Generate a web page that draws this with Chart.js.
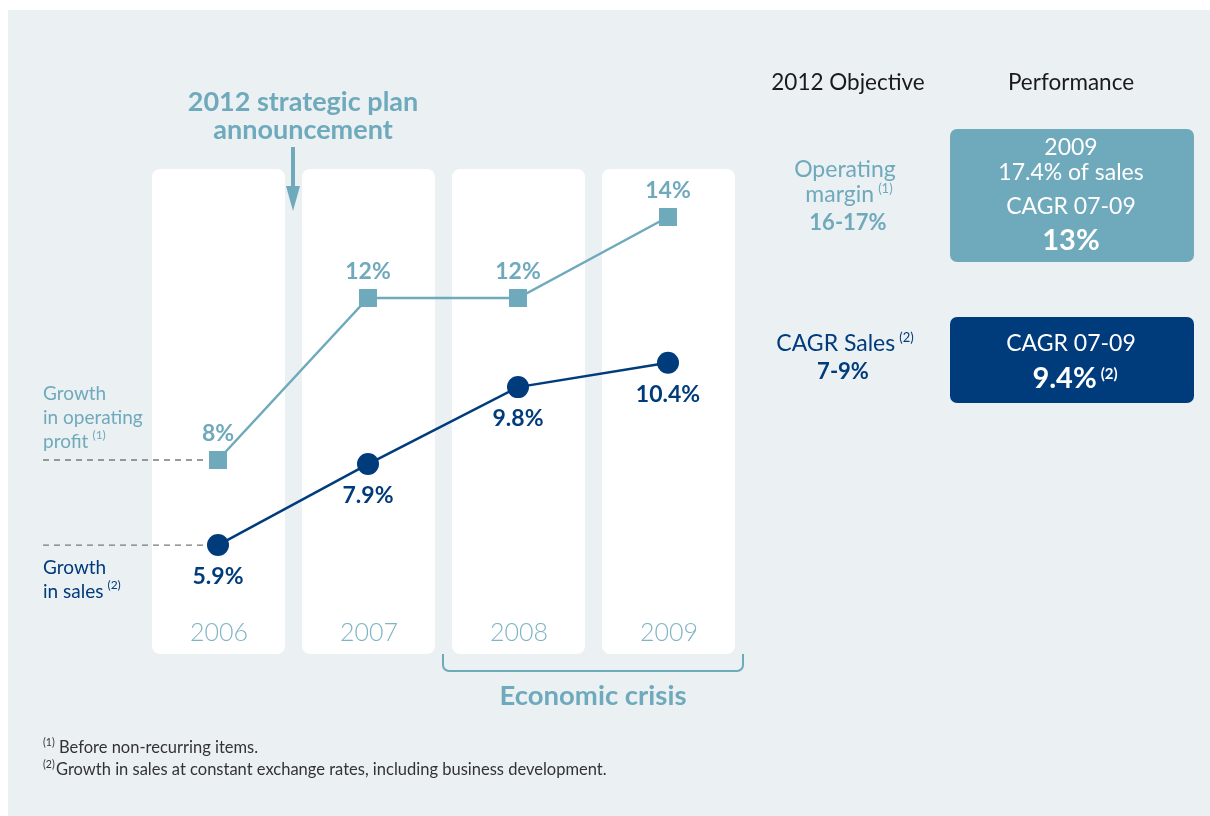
<!DOCTYPE html>
<html>
<head>
<meta charset="utf-8">
<script src="https://cdn.jsdelivr.net/npm/chart.js@4.4.0/dist/chart.umd.min.js"></script>
<style>
  body { margin: 0; background: #fff; }
  #wrap { width: 1210px; height: 816px; position: relative; }
</style>
</head>
<body>
<div id="wrap"><canvas id="myChart"></canvas></div>
<script>
const years = ['2006', '2007', '2008', '2009'];
const profitGrowth = [8, 12, 12, 14];
const profitLabels = ['8%', '12%', '12%', '14%'];
const salesGrowth = [5.9, 7.9, 9.8, 10.4];
const salesLabels = ['5.9%', '7.9%', '9.8%', '10.4%'];

const LIGHT = '#6fa9bc';
const DARK = '#003b7c';
const BG = '#ebf0f3';
const YEAR = '#7fb3c6';
const FF = 'Lato, "Open Sans", sans-serif';

function txt(ctx, s, x, y, font, color, align) {
  ctx.font = font;
  ctx.fillStyle = color;
  ctx.textAlign = align || 'center';
  ctx.textBaseline = 'alphabetic';
  ctx.fillText(s, x, y);
}

// main text + superscript, centred (or left aligned) on x
function txtSup(ctx, s, sup, x, y, font, supFont, color, align) {
  ctx.font = font;
  const w1 = ctx.measureText(s).width;
  ctx.font = supFont;
  const w2 = ctx.measureText(sup).width;
  const gap = 4;
  let x0 = align === 'left' ? x : x - (w1 + gap + w2) / 2;
  txt(ctx, s, x0, y, font, color, 'left');
  txt(ctx, sup, x0 + w1 + gap, y - 9, supFont, color, 'left');
}

function roundRect(ctx, x, y, w, h, r, color) {
  ctx.beginPath();
  ctx.roundRect(x, y, w, h, r);
  ctx.fillStyle = color;
  ctx.fill();
}

const decor = {
  id: 'decor',
  beforeDraw(chart) {
    const ctx = chart.ctx;
    const xs = chart.scales.x;
    const ys = chart.scales.y;
    ctx.save();
    ctx.fillStyle = '#fff';
    ctx.fillRect(0, 0, chart.width, chart.height);
    ctx.fillStyle = BG;
    ctx.fillRect(8, 10, chart.width - 8, chart.height - 10);

    // white year columns
    years.forEach((y, i) => {
      const cx = xs.getPixelForValue(i);
      roundRect(ctx, cx - 66, 169, 133, 485, 8, '#fff');
      txt(ctx, y, cx + 1, 641, '300 25px ' + FF, YEAR);
    });

    // strategic plan note + arrow
    txt(ctx, '2012 strategic plan', 303, 111, 'bold 27px ' + FF, LIGHT);
    txt(ctx, 'announcement', 303, 139, 'bold 27px ' + FF, LIGHT);
    ctx.fillStyle = LIGHT;
    ctx.fillRect(291, 147, 4, 42);
    ctx.beginPath();
    ctx.moveTo(286, 186);
    ctx.lineTo(300, 186);
    ctx.lineTo(293, 211);
    ctx.closePath();
    ctx.fill();

    // right side headings
    txt(ctx, '2012 Objective', 848, 90, '22.5px ' + FF, '#1a1a1a');
    txt(ctx, 'Performance', 1071, 90, '22.5px ' + FF, '#1a1a1a');

    txt(ctx, 'Operating', 845, 177, '23px ' + FF, LIGHT);
    txtSup(ctx, 'margin', '(1)', 849, 202, '23px ' + FF, '13px ' + FF, LIGHT);
    txt(ctx, '16-17%', 848, 230, 'bold 22px ' + FF, LIGHT);

    roundRect(ctx, 950, 129, 244, 133, 7, LIGHT);
    txt(ctx, '2009', 1071, 155, '23px ' + FF, '#fff');
    txt(ctx, '17.4% of sales', 1071, 180, '23px ' + FF, '#fff');
    txt(ctx, 'CAGR 07-09', 1071, 214, '23px ' + FF, '#fff');
    txt(ctx, '13%', 1071, 250, 'bold 29px ' + FF, '#fff');

    txtSup(ctx, 'CAGR Sales', '(2)', 845, 351, '23px ' + FF, '13px ' + FF, DARK);
    txt(ctx, '7-9%', 843, 379, 'bold 22px ' + FF, DARK);

    roundRect(ctx, 950, 317, 244, 86, 7, DARK);
    txt(ctx, 'CAGR 07-09', 1071, 351, '23px ' + FF, '#fff');
    txtSup(ctx, '9.4%', '(2)', 1075, 388, 'bold 29px ' + FF, 'bold 15px ' + FF, '#fff');

    // left labels with dashed guides to first points
    const yP = ys.getPixelForValue(profitGrowth[0]);
    const yS = ys.getPixelForValue(salesGrowth[0]);
    txt(ctx, 'Growth', 43, 400, '19px ' + FF, LIGHT, 'left');
    txt(ctx, 'in operating', 43, 424, '19px ' + FF, LIGHT, 'left');
    txtSup(ctx, 'profit', '(1)', 43, 448, '19px ' + FF, '12px ' + FF, LIGHT, 'left');
    txt(ctx, 'Growth', 43, 574, '19px ' + FF, DARK, 'left');
    txtSup(ctx, 'in sales', '(2)', 43, 598, '19px ' + FF, '12px ' + FF, DARK, 'left');

    ctx.strokeStyle = '#7a7a7a';
    ctx.lineWidth = 1.3;
    ctx.setLineDash([6, 5]);
    [yP, yS].forEach(yy => {
      ctx.beginPath();
      ctx.moveTo(43, yy);
      ctx.lineTo(204, yy);
      ctx.stroke();
    });
    ctx.setLineDash([]);

    // economic crisis bracket
    const bx0 = xs.getPixelForValue(2) - 75;
    const bx1 = xs.getPixelForValue(3) + 75;
    ctx.strokeStyle = LIGHT;
    ctx.lineWidth = 2;
    ctx.beginPath();
    ctx.moveTo(bx0, 654);
    ctx.lineTo(bx0, 665);
    ctx.arcTo(bx0, 671, bx0 + 6, 671, 6);
    ctx.lineTo(bx1 - 6, 671);
    ctx.arcTo(bx1, 671, bx1, 665, 6);
    ctx.lineTo(bx1, 654);
    ctx.stroke();
    txt(ctx, 'Economic crisis', (bx0 + bx1) / 2, 705, 'bold 27.5px ' + FF, LIGHT);

    // footnotes
    txt(ctx, '(1)', 43, 746, '10.5px ' + FF, '#333', 'left');
    txt(ctx, 'Before non-recurring items.', 59, 753, '16.5px ' + FF, '#333', 'left');
    txt(ctx, '(2)', 43, 768, '10.5px ' + FF, '#333', 'left');
    txt(ctx, 'Growth in sales at constant exchange rates, including business development.', 56, 775, '16.5px ' + FF, '#333', 'left');
    ctx.restore();
  },
  afterDatasetsDraw(chart) {
    const ctx = chart.ctx;
    ctx.save();
    chart.getDatasetMeta(0).data.forEach((p, i) => {
      txt(ctx, profitLabels[i], p.x, p.y - 19, 'bold 23px ' + FF, LIGHT);
    });
    chart.getDatasetMeta(1).data.forEach((p, i) => {
      txt(ctx, salesLabels[i], p.x, p.y + 39, 'bold 23px ' + FF, DARK);
    });
    ctx.restore();
  }
};

const ctx = document.getElementById('myChart');
const myChart = new Chart(ctx, {
  type: 'line',
  data: {
    labels: years,
    datasets: [{
      label: 'Growth in operating profit',
      data: profitGrowth,
      borderColor: LIGHT,
      backgroundColor: LIGHT,
      borderWidth: 2.5,
      pointStyle: 'rect',
      pointRadius: 12.7,
      pointBackgroundColor: LIGHT,
      pointBorderWidth: 0,
      lineTension: 0
    }, {
      label: 'Growth in sales',
      data: salesGrowth,
      borderColor: DARK,
      backgroundColor: DARK,
      borderWidth: 2.5,
      pointStyle: 'circle',
      pointRadius: 11,
      pointBackgroundColor: DARK,
      pointBorderWidth: 0,
      lineTension: 0
    }]
  },
  options: {
    responsive: true,
    maintainAspectRatio: false,
    animation: false,
    layout: { padding: { left: 143, right: 467, top: 136, bottom: 32 } },
    scales: {
      x: { display: false, offset: true },
      y: { display: false, min: 0, max: 16 }
    },
    plugins: {
      legend: { display: false },
      tooltip: { enabled: false }
    }
  },
  plugins: [decor]
});
</script>
</body>
</html>
